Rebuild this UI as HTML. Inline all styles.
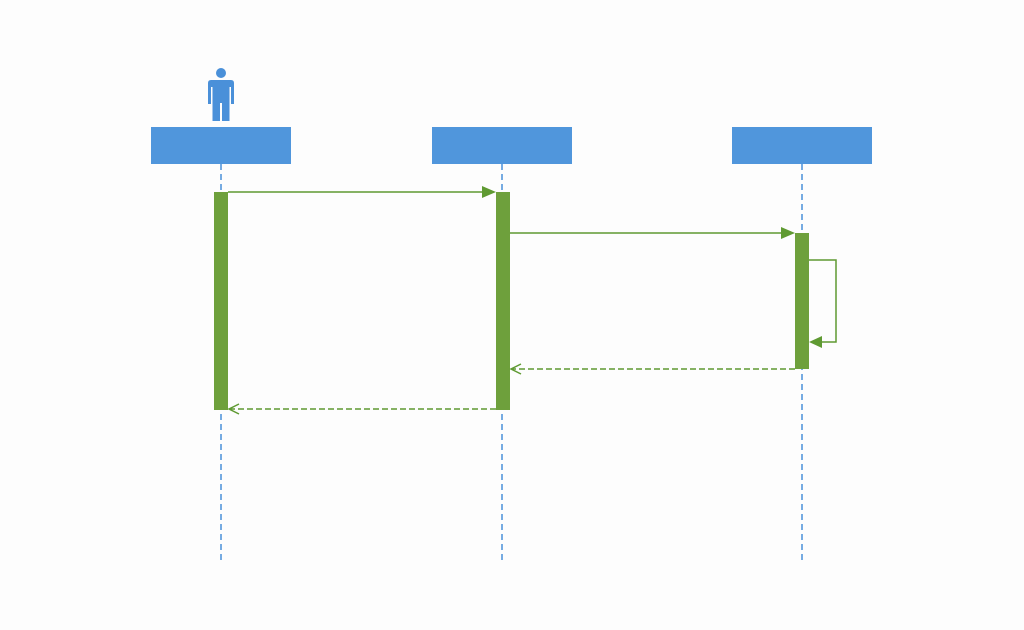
<!DOCTYPE html>
<html><head><style>html,body{margin:0;padding:0;background:#fdfdfd;}svg{display:block}</style></head>
<body>
<svg width="1024" height="630" xmlns="http://www.w3.org/2000/svg">
<rect width="1024" height="630" fill="#fdfdfd"/>
<!-- actor -->
<circle cx="221" cy="73" r="5" fill="#4a90d9"/>
<path d="M211 80 H231 Q234 80 234 83 V104 H231 V87 H229.5 V121 H222 V103 H220 V121 H212.5 V87 H211 V104 H208 V83 Q208 80 211 80 Z" fill="#4a90d9"/>
<!-- boxes -->
<rect x="151" y="127" width="140" height="37" fill="#5096dc"/>
<rect x="432" y="127" width="140" height="37" fill="#5096dc"/>
<rect x="732" y="127" width="140" height="37" fill="#5096dc"/>
<!-- lifelines -->
<g stroke="#4a90d9" stroke-width="1.5" stroke-dasharray="6,4">
<line x1="221" y1="164" x2="221" y2="562"/>
<line x1="502" y1="164" x2="502" y2="562"/>
<line x1="802" y1="164" x2="802" y2="562"/>
</g>
<!-- activations -->
<rect x="214" y="192" width="14" height="218" fill="#6ea03c"/>
<rect x="496" y="192" width="14" height="218" fill="#6ea03c"/>
<rect x="795" y="233" width="14" height="136" fill="#6ea03c"/>
<!-- messages -->
<g stroke="#5f9a32" stroke-width="1.5" fill="none">
<line x1="228" y1="192" x2="484" y2="192"/>
<line x1="510" y1="233" x2="783" y2="233"/>
<polyline points="809,260 836,260 836,342 821,342"/>
<line x1="795" y1="369" x2="512" y2="369" stroke-dasharray="6,3"/>
<polyline points="521,364 511,369 521,374"/>
<line x1="496" y1="409" x2="230" y2="409" stroke-dasharray="6,3"/>
<polyline points="239,404 229,409 239,414"/>
</g>
<g fill="#5f9a32">
<polygon points="496,192 482,186 482,198"/>
<polygon points="795,233 781,227 781,239"/>
<polygon points="809,342 822,336 822,348"/>
</g>
</svg>
</body></html>
